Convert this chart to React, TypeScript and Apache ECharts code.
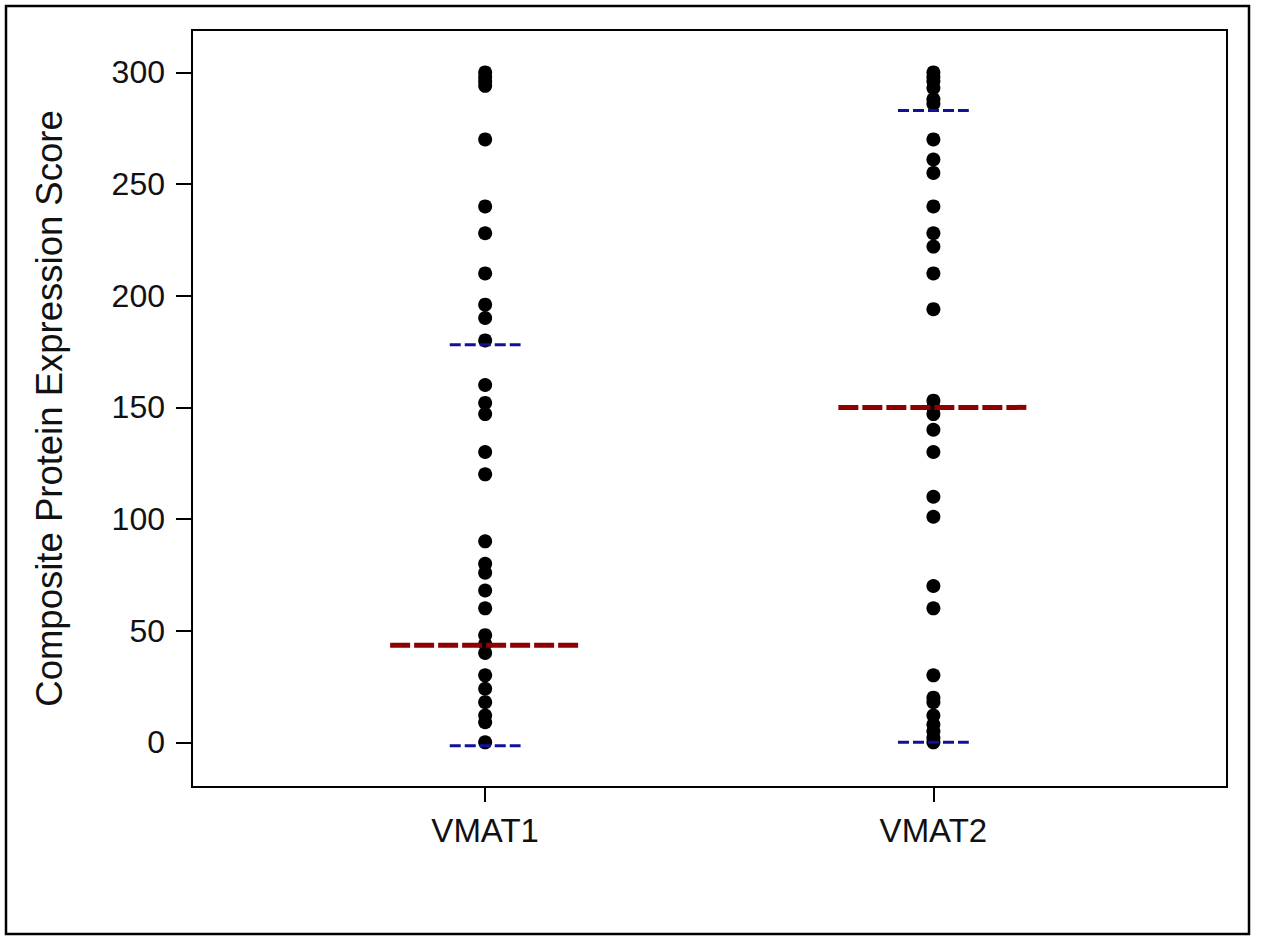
import React, { useEffect, useRef } from "react";
import * as echarts from "echarts";

const categories = ["VMAT1", "VMAT2"];
const vmat1Values = [300, 298, 296, 294, 270, 240, 228, 210, 196, 190, 180, 160, 152, 147, 130, 120, 90, 80, 76, 68, 60, 48, 44, 40, 30, 24, 18, 12, 9, 0];
const vmat2Values = [300, 298, 296, 293, 288, 286, 270, 261, 255, 240, 228, 222, 210, 194, 153, 150, 147, 140, 130, 110, 101, 70, 60, 30, 20, 18, 12, 8, 5, 2, 0];
const medians = [43.5, 150];
const upperLines = [178, 283];
const lowerLines = [-1.5, 0];
const yTicks = [0, 50, 100, 150, 200, 250, 300];

const FONT = "'Liberation Sans', Arial, Helvetica, sans-serif";
const MEDIAN_HALF = 0.212;
const QUART_HALF = 0.079;

export default function App() {
  const ref = useRef<HTMLDivElement>(null);
  useEffect(() => {
    document.body.style.margin = "0";
    document.body.style.overflow = "hidden";
    const chart = echarts.init(ref.current!, null, { renderer: "svg" });
    const groups = [vmat1Values, vmat2Values];
    const scatterData: number[][] = [];
    groups.forEach((vals, i) => vals.forEach((v) => scatterData.push([i + 1, v])));

    const lineSeries: any[] = [];
    categories.forEach((_, i) => {
      const x = i + 1;
      lineSeries.push({
        type: "line",
        data: [[x - MEDIAN_HALF, medians[i]], [x + MEDIAN_HALF, medians[i]]],
        symbol: "none",
        lineStyle: { color: "#8f0000", width: 5, type: [20, 4] },
        z: 5,
        silent: true,
      });
      [upperLines[i], lowerLines[i]].forEach((v) => {
        lineSeries.push({
          type: "line",
          data: [[x - QUART_HALF, v], [x + QUART_HALF, v]],
          symbol: "none",
          lineStyle: { color: "#10109a", width: 3, type: [11, 4] },
          z: 5,
          silent: true,
        });
      });
    });

    chart.setOption({
      animation: false,
      backgroundColor: "#ffffff",
      grid: {
        left: 192,
        top: 30,
        right: 34,
        bottom: 149,
        show: true,
        borderColor: "#000",
        borderWidth: 2,
        backgroundColor: "transparent",
      },
      xAxis: {
        type: "value",
        min: 0.346,
        max: 2.655,
        splitLine: { show: false },
        axisLine: { show: true, onZero: false, lineStyle: { color: "#000", width: 2 } },
        axisTick: { show: true, customValues: [1, 2], length: 15, lineStyle: { color: "#000", width: 2 } },
        axisLabel: {
          customValues: [1, 2],
          formatter: (v: number) => categories[Math.round(v) - 1] ?? "",
          color: "#111",
          fontSize: 33,
          fontFamily: FONT,
          margin: 27,
        },
      },
      yAxis: {
        type: "value",
        min: -20,
        max: 319,
        splitLine: { show: false },
        axisLine: { show: true, onZero: false, lineStyle: { color: "#000", width: 2 } },
        axisTick: { show: true, customValues: yTicks, length: 16, lineStyle: { color: "#000", width: 2 } },
        axisLabel: {
          customValues: yTicks,
          color: "#111",
          fontSize: 32,
          fontFamily: FONT,
          margin: 27,
        },
        name: "Composite Protein Expression Score",
        nameLocation: "middle",
        nameRotate: 90,
        nameGap: 124,
        nameTextStyle: { color: "#111", fontSize: 36.5, fontFamily: FONT },
      },
      graphic: [
        {
          type: "rect",
          shape: { x: 6, y: 6, width: 1243, height: 928 },
          style: { fill: "none", stroke: "#000", lineWidth: 2.5 },
          silent: true,
        },
      ],
      series: [
        {
          type: "scatter",
          data: scatterData,
          symbol: "circle",
          symbolSize: 14,
          itemStyle: { color: "#000", opacity: 1 },
          z: 3,
        },
        ...lineSeries,
      ],
    });
    return () => chart.dispose();
  }, []);
  return <div ref={ref} style={{ width: 1261, height: 936 }} />;
}
